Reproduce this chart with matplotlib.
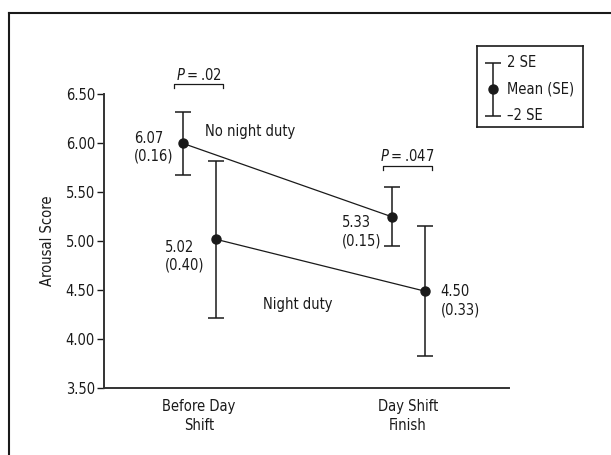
import matplotlib
matplotlib.use('Agg')
import matplotlib.pyplot as plt
from matplotlib.lines import Line2D

plt.rcParams['font.family'] = ['DejaVu Sans']
plt.rcParams['font.stretch'] = 'condensed'
plt.rcParams['font.size'] = 10.5

# data
categories = ['Before Day\nShift', 'Day Shift\nFinish']
no_night_mean = [6.00, 5.25]      # plotted position
no_night_label = [6.07, 5.33]     # printed value
no_night_se = [0.16, 0.15]
night_mean = [5.02, 4.49]
night_label = [5.02, 4.50]
night_se = [0.40, 0.33]
p_values = ['.02', '.047']
y_ticks = [3.5, 4.0, 4.5, 5.0, 5.5, 6.0, 6.5]

ink = '#1a1a1a'
off = 0.079
x = [0, 1]
x_no = [i - off for i in x]
x_ni = [i + off for i in x]

fig = plt.figure(figsize=(6.11, 4.55), dpi=100)

# outer frame (only left and top visible)
fig.add_artist(Line2D([9 / 611, 9 / 611], [0, 1 - 13 / 455], color=ink, lw=1.5))
fig.add_artist(Line2D([9 / 611, 1], [1 - 13 / 455, 1 - 13 / 455], color=ink, lw=1.5))

ax = fig.add_axes([104 / 611, 67 / 455, 405 / 611, 293.7 / 455])
ax.set_xlim(-0.455, 1.483)
ax.set_ylim(3.5, 6.5)

for xs, m, se in [(x_no, no_night_mean, no_night_se), (x_ni, night_mean, night_se)]:
    ax.plot(xs, m, color=ink, lw=0.9, zorder=2)
    ax.errorbar(xs, m, yerr=[2 * s for s in se], fmt='o', color=ink, ms=6.5,
                elinewidth=1.1, capsize=5.5, capthick=1.1, zorder=3)

# value labels
for xs, m, lab, se, dx, dy, ha in [
    (x_no[0], no_night_mean[0], no_night_label[0], no_night_se[0], -9, -4, 'right'),
    (x_ni[0], night_mean[0], night_label[0], night_se[0], -11, -17, 'right'),
    (x_no[1], no_night_mean[1], no_night_label[1], no_night_se[1], -10, -15, 'right'),
    (x_ni[1], night_mean[1], night_label[1], night_se[1], 16, -9.5, 'left'),
]:
    ax.annotate(f'{lab:.2f}\n({se:.2f})', (xs, m), xytext=(dx * 0.72, dy * 0.72),
                textcoords='offset points', ha=ha, va='center', multialignment='left',
                linespacing=1.25, color=ink)

ax.text(0.029, 6.115, 'No night duty', ha='left', va='center', color=ink)
ax.text(0.306, 4.348, 'Night duty', ha='left', va='center', color=ink)

# significance brackets
for xc, ytop, p in [(0, 6.605, p_values[0]), (1, 5.77, p_values[1])]:
    x0, x1 = xc - 0.12, xc + 0.115
    ax.plot([x0, x0, x1, x1], [ytop - 0.042, ytop, ytop, ytop - 0.042],
            color=ink, lw=0.9, clip_on=False)
    ax.text((x0 + x1) / 2, ytop + 0.095, f'$P$\u2009=\u2009{p}', ha='center', va='center',
            color=ink, clip_on=False)

ax.set_yticks(y_ticks)
ax.set_yticklabels([f'{v:.2f}' for v in y_ticks])
ax.set_xticks(x)
ax.set_xticklabels(categories, linespacing=1.3)
ax.tick_params(axis='x', length=0, pad=8, colors=ink)
ax.tick_params(axis='y', length=5, width=1, direction='out', pad=1.5, colors=ink)
ax.set_ylabel('Arousal Score', color=ink, labelpad=8)
for s in ['top', 'right']:
    ax.spines[s].set_visible(False)
for s in ['left', 'bottom']:
    ax.spines[s].set_color('#333333')
    ax.spines[s].set_linewidth(1.4)

# key box
lg = fig.add_axes([476.7 / 611, (455 - 127.3) / 455, 106 / 611, 81.6 / 455])
lg.set_xlim(0, 106)
lg.set_ylim(81.6, 0)
lg.set_xticks([])
lg.set_yticks([])
for s in lg.spines.values():
    s.set_color(ink)
    s.set_linewidth(1.2)
lg.errorbar([16.6], [43.6], yerr=[26.6], fmt='o', color=ink, ms=6.5,
            elinewidth=1.1, capsize=5.5, capthick=1.1)
lg.text(30, 17, '2 SE', va='center', ha='left', color=ink)
lg.text(30, 43.6, 'Mean (SE)', va='center', ha='left', color=ink)
lg.text(30, 70.3, '\u20132 SE', va='center', ha='left', color=ink)

fig.savefig('out.png', dpi=100)
